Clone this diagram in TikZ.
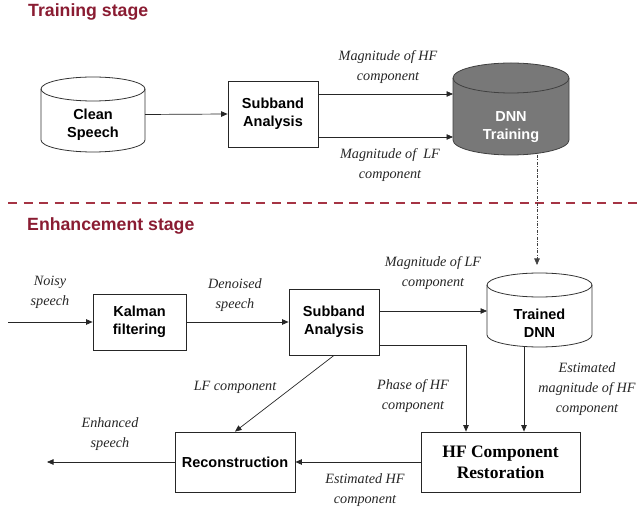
\documentclass[tikz,border=0pt]{standalone}
\usepackage{fontspec}
\setmainfont{Liberation Serif}
\setsansfont{Liberation Sans}
\usetikzlibrary{arrows.meta,calc}

\definecolor{titlered}{RGB}{138,28,50}
\definecolor{seprED}{RGB}{165,52,68}
\definecolor{dbgray}{RGB}{120,120,120}

% cylinder outline drawn around a named (invisible) node
% #1 node name, #2 half width, #3 vertical radius of the end ellipses, #4 path style
\newcommand\drawcyl[4]{%
  \path[#4] ([yshift=-#3]#1.north west) -- ([yshift=#3]#1.south west)
    arc[start angle=180, end angle=360, x radius=#2, y radius=#3]
    -- ([yshift=-#3]#1.north east)
    arc[start angle=0, end angle=180, x radius=#2, y radius=#3] -- cycle;
  \path[#4, fill=none] ([yshift=-#3]#1.north west)
    arc[start angle=180, end angle=360, x radius=#2, y radius=#3];
}

\tikzset{
  box/.style={draw=black!85, line width=0.8pt, fill=white, inner sep=0pt,
    align=center, font=\sffamily\bfseries\fontsize{14.5}{18}\selectfont},
  cylbox/.style={inner sep=0pt, outer sep=0pt},
  cyltext/.style={align=center, inner sep=0pt,
    font=\sffamily\bfseries\fontsize{14.5}{18}\selectfont},
  lbl/.style={align=center, inner sep=0pt, text=black!85,
    font=\itshape\fontsize{14.2}{20}\selectfont},
  arr/.style={-{Triangle[length=6.5pt,width=5.5pt]}, line width=0.7pt, draw=black!85},
  stagetitle/.style={anchor=west, inner sep=0pt, text=titlered,
    font=\sffamily\bfseries\fontsize{17.7}{20}\selectfont},
}

\begin{document}
\begin{tikzpicture}[x=1pt, y=-1pt]
\useasboundingbox (0,0) rectangle (637,510);

% ---------- training stage ----------
\node[stagetitle] (ttitle) at (28,12) {Training stage};

\node[cylbox, minimum width=104pt, minimum height=75pt] (clean) at (93,114.5) {};
\drawcyl{clean}{52pt}{12pt}{draw=black!80, line width=0.8pt, fill=white}
\node[cyltext] (cleantxt) at (93,124.5) {Clean\\Speech};

\node[box, minimum width=90pt, minimum height=66pt] (sub1) at (273,114) {Subband\\Analysis};

\node[cylbox, minimum width=116pt, minimum height=92pt] (dnn) at (511,109) {};
\drawcyl{dnn}{58pt}{15pt}{draw=black!75, line width=0.8pt, fill=dbgray}
\node[cyltext, text=white] (dnntxt) at (511,127.5) {DNN\\Training};

\draw[arr] (clean.east) -- (sub1.west);
\draw[arr] ([yshift=20pt]sub1.east) -- ([yshift=20pt]sub1.east -| dnn.west);
\draw[arr] ([yshift=-23pt]sub1.east) -- ([yshift=-23pt]sub1.east -| dnn.west);

\node[lbl] (lhf) at (388,67) {Magnitude of HF\\component};
\node[lbl] (llf) at (390,165) {Magnitude of\ \ LF\\component};

% ---------- separator ----------
\draw[seprED, line width=1.6pt, dash pattern=on 9pt off 6.5pt] (8,203) -- (637,203);

% ---------- enhancement stage ----------
\node[stagetitle] (etitle) at (27,226) {Enhancement stage};

\node[box, minimum width=93pt, minimum height=56pt] (kal) at (139.5,322) {Kalman\\filtering};
\node[box, minimum width=90pt, minimum height=66pt] (sub2) at (334,322) {Subband\\Analysis};

\node[cylbox, minimum width=105pt, minimum height=74pt] (tdnn) at (539.5,310) {};
\drawcyl{tdnn}{52.5pt}{12pt}{draw=black!80, line width=0.8pt, fill=white}
\node[cyltext] (tdnntxt) at (539.5,323) {Trained\\DNN};

\node[box, minimum width=120pt, minimum height=60pt] (rec) at (235,462) {Reconstruction};
\node[box, minimum width=159pt, minimum height=60pt,
  font=\rmfamily\bfseries\fontsize{17.5}{21}\selectfont] (hf) at (500.5,462) {HF Component\\Restoration};

\coordinate (noisyin) at (8,322);
\coordinate (enhout) at (47,462);

% trained model handed over to the enhancement stage
\draw[arr, draw=black!75, line width=0.6pt,
  dash pattern=on 3pt off 1.5pt on 0.8pt off 1.5pt]
  ([xshift=26pt]dnn.south) -- ([xshift=-2.5pt,yshift=8pt]tdnn.north);

\draw[arr] (noisyin) -- (kal.west);
\draw[arr] (kal.east) -- (sub2.west);
\draw[arr] ([yshift=11pt]sub2.east) -- ([yshift=11pt]sub2.east -| tdnn.west);
\draw[arr] ([yshift=-23pt]sub2.east) -| ([xshift=-34.5pt]hf.north);
\draw[arr] ([xshift=-15.5pt]tdnn.south) -- ([xshift=-15.5pt]tdnn.south |- hf.north);
\draw[arr] (sub2.south) -- (rec.north);
\draw[arr] (hf.west) -- (rec.east);
\draw[arr] (rec.west) -- (enhout);

\node[lbl] (lnoisy) at (50,292.5) {Noisy\\speech};
\node[lbl] (lden) at (235,295) {Denoised\\speech};
\node[lbl] (llf2) at (433,273.5) {Magnitude of LF\\component};
\node[lbl] (lphase) at (413,396) {Phase of HF\\component};
\node[lbl] (lestm) at (587,389) {Estimated\\magnitude of HF\\component};
\node[lbl] (llfc) at (235,387) {LF component};
\node[lbl] (lenh) at (110,434.5) {Enhanced\\speech};
\node[lbl] (lesthf) at (365,490) {Estimated HF\\component};
\end{tikzpicture}
\end{document}
